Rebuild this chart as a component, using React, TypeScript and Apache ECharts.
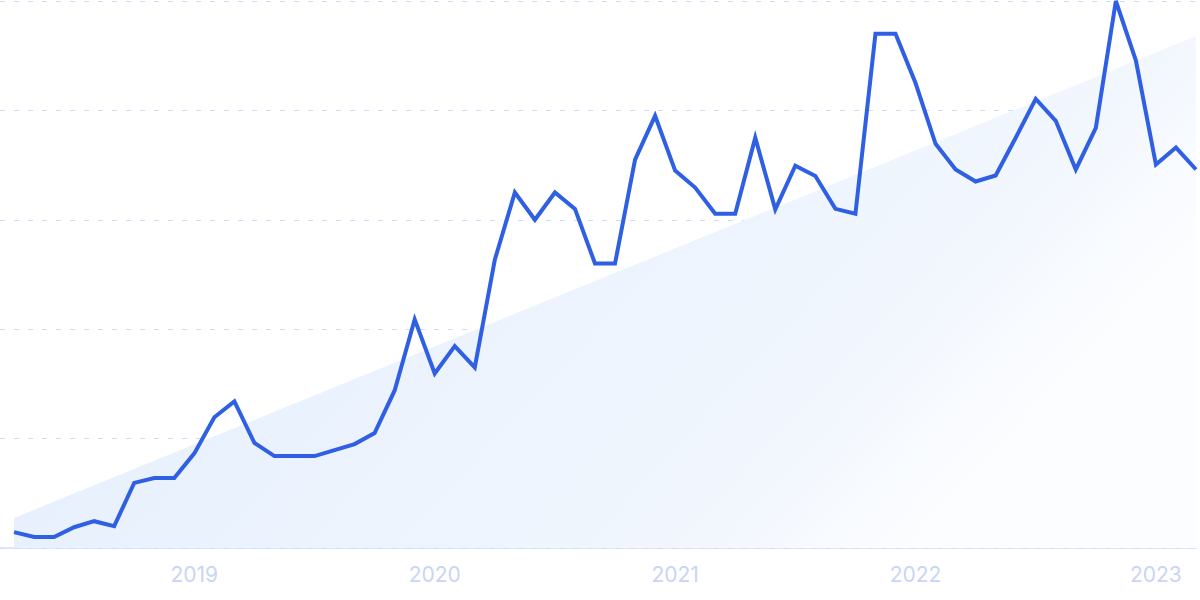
import React, { useEffect, useRef } from "react";
import * as echarts from "echarts";

const years: string[] = ["2018", "2019", "2020", "2021", "2022", "2023"];
// first point is April 2018 (month index 0)
const startMonth = 3; // April, zero-based
const yearLabelIdx: number[] = [9, 21, 33, 45, 57];

const interest: number[] = [
  2.9, 2.0, 2.0, 3.8, 4.9, 4.0, 11.9, 12.8, 12.8,
  17.3, 23.9, 26.8, 19.2, 16.8, 16.8, 16.8, 17.9, 19.0, 21.0, 28.8, 41.8,
  31.9, 36.9, 33.0, 52.7, 65.0, 60.0, 65.0, 62.0, 52.0, 52.0, 71.0, 79.0,
  69.0, 65.9, 61.1, 61.1, 75.0, 61.9, 69.9, 68.0, 62.0, 61.1, 94.0, 94.0,
  85.0, 73.9, 69.2, 67.0, 68.1, 75.0, 82.1, 78.1, 69.2, 76.8, 100, 89.1,
  70.1, 73.2, 69.2,
];

// Trend line end points: [month index, value]
const trendStart: [number, number] = [0, 5.5];
const trendEnd: [number, number] = [59, 93.6];

const yTicks: number[] = [0, 20, 40, 60, 80, 100];

export default function App() {
  const ref = useRef<HTMLDivElement>(null);

  useEffect(() => {
    if (!ref.current) return;
    const chart = echarts.init(ref.current, null, { renderer: "svg" });
    chart.setOption({
      animation: false,
      grid: { left: 0, right: 4, top: 1, bottom: 52 },
      xAxis: {
        type: "value",
        min: -0.7,
        max: interest.length - 1,
        axisLine: { show: true, onZero: false, lineStyle: { color: "#cfdffb", width: 1.5 } },
        axisTick: { show: false },
        splitLine: { show: false },
        axisLabel: {
          customValues: yearLabelIdx,
          margin: 16,
          color: "#c8d5f4",
          fontSize: 21,
          fontFamily: "Inter",
          formatter: (v: number) => years[Math.floor((v + startMonth) / 12)],
        },
      },
      yAxis: {
        type: "value",
        min: yTicks[0],
        max: yTicks[yTicks.length - 1],
        interval: 20,
        axisLine: { show: false },
        axisTick: { show: false },
        axisLabel: { show: false },
        splitLine: {
          show: true,
          lineStyle: { color: "#cddcfa", type: [5, 9], width: 1 },
        },
      },
      series: [
        {
          type: "line",
          data: [trendStart, trendEnd],
          symbol: "none",
          lineStyle: { width: 0 },
          areaStyle: {
            opacity: 1,
            color: new echarts.graphic.LinearGradient(0, 0, 1, 0.4, [
              { offset: 0, color: "#e1ecfc" },
              { offset: 0.85, color: "#f2f7fe" },
              { offset: 1, color: "#fcfdff" },
            ]),
          },
          silent: true,
          z: 1,
        },
        {
          type: "line",
          data: interest.map((v, i) => [i, v]),
          symbol: "none",
          lineStyle: { color: "#2f5fe2", width: 4, join: "miter" },
          z: 3,
        },
      ],
    });
    return () => chart.dispose();
  }, []);

  return <div ref={ref} style={{ width: 1200, height: 600, position: "absolute", left: 0, top: 0 }} />;
}
